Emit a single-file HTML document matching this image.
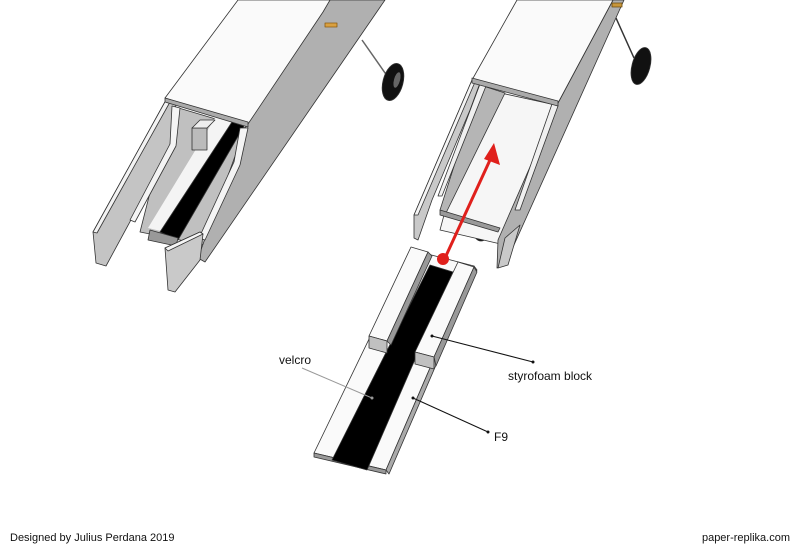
<!DOCTYPE html>
<html><head><meta charset="utf-8"><style>
html,body{margin:0;padding:0;background:#fff;}
svg{display:block;}
text{font-family:"Liberation Sans",Arial,sans-serif;}
</style></head><body>
<svg width="800" height="549" viewBox="0 0 800 549" xmlns="http://www.w3.org/2000/svg">
<rect width="800" height="549" fill="#fff"/>
<g stroke="#333" stroke-width="0.8" stroke-linejoin="round">
<!-- LEFT FUSELAGE -->
<line x1="362" y1="40" x2="390" y2="80" stroke="#666" stroke-width="1.5"/>
<ellipse cx="393" cy="82" rx="10" ry="19" fill="#111" transform="rotate(15 393 82)"/>
<ellipse cx="397" cy="80" rx="3" ry="8" fill="#666" stroke="none" transform="rotate(15 397 80)"/>
<!-- inner floor -->
<polygon points="172,106 246,128 205,245 140,232" fill="#c0c0c0"/>
<polygon points="215,118 232,122 165,232 148,228" fill="#f4f4f4" stroke="none"/>
<polygon points="232,122 244,126 178,240 160,232" fill="#000"/>
<polygon points="150,230 178,238 176,246 148,240" fill="#999"/>
<!-- inner block -->
<polygon points="192,128 207,128 207,150 192,150" fill="#bbb"/>
<polygon points="192,128 207,128 215,120 200,120" fill="#eee"/>
<!-- left outer side panel -->
<polygon points="166,100 176,104 170,145 132,218 106,266 96,263 93,232" fill="#c4c4c4"/>
<polygon points="166,100 170,102 97,233 93,232" fill="#f3f3f3"/>
<!-- inner left former strip -->
<polygon points="172,106 180,108 176,146 135,222 130,220 170,144" fill="#f4f4f4"/>
<!-- big right side panel -->
<polygon points="323,10 330,0 385,0 205,262 198,258 246,126" fill="#b0b0b0"/>
<!-- lid -->
<polygon points="238,0 330,0 323,12 248,124 165,98" fill="#fafafa"/>
<polygon points="165,98 248,122 248,127 165,102" fill="#aaa"/>
<!-- front former right -->
<polygon points="240,128 248,128 240,165 205,240 199,238 234,162" fill="#f4f4f4"/>
<polygon points="165,248 200,232 203,234 200,260 175,292 168,290" fill="#c9c9c9"/>
<polygon points="165,248 200,232 203,234 168,251" fill="#f5f5f5"/>
<rect x="325" y="23" width="12" height="4" fill="#d9a040" stroke="#8a5a10"/>

<!-- RIGHT FUSELAGE -->
<line x1="616" y1="18" x2="634" y2="58" stroke="#333" stroke-width="1.5"/>
<ellipse cx="641" cy="66" rx="9" ry="19" fill="#111" transform="rotate(15 641 66)"/>
<ellipse cx="481" cy="233" rx="7" ry="8" fill="#111"/>
<polygon points="478,88 560,106 505,245 440,230" fill="#f6f6f6"/>
<polygon points="480,85 505,93 445,215 440,210" fill="#b5b5b5"/>
<polygon points="472,80 480,83 470,110 432,200 418,240 414,238 414,215" fill="#c9c9c9"/>
<polygon points="472,80 475,82 418,215 414,215" fill="#f5f5f5"/>
<polygon points="480,84 486,86 442,196 438,196" fill="#f0f0f0"/>
<polygon points="613,0 624,0 505,265 497,268 498,240 558,103" fill="#b0b0b0"/>
<polygon points="552,104 558,106 520,210 515,210" fill="#f0f0f0"/>
<polygon points="505,238 520,225 508,265 498,268" fill="#c9c9c9"/>
<polygon points="517,0 613,0 558,103 472,80" fill="#fafafa"/>
<polygon points="472,78 558,101 558,106 472,83" fill="#aaa"/>
<polygon points="440,210 500,228 498,232 440,215" fill="#999"/>
<rect x="612" y="3" width="10" height="4" fill="#c8963a" stroke="#6a4a10"/>

<!-- TRAY -->
<polygon points="412,250 474,266 386,470 314,453" fill="#fafafa"/>
<polygon points="314,453 386,470 386,474 314,457" fill="#999"/>
<polygon points="474,266 477,270 389,474 386,470" fill="#aaa"/>
<polygon points="430,265 453,272 367,470 332,460" fill="#000"/>
<polygon points="411,247 428,252 387,341 369,336" fill="#fafafa"/>
<polygon points="369,336 387,341 387,353 369,348" fill="#c0c0c0"/>
<polygon points="428,252 432,256 391,345 387,341" fill="#999"/>
<polygon points="458,262 474,267 434,357 415,352" fill="#fafafa"/>
<polygon points="415,352 434,357 434,369 415,364" fill="#c0c0c0"/>
<polygon points="474,267 477,272 436,366 434,357" fill="#999"/>
</g>

<line x1="445" y1="258" x2="490" y2="160" stroke="#e0201c" stroke-width="3"/>
<polygon points="494,143 500,165 484,159" fill="#e0201c"/>
<circle cx="443" cy="259" r="6" fill="#e0201c"/>

<line x1="302" y1="368" x2="372" y2="398" stroke="#999" stroke-width="1"/>
<circle cx="372" cy="398" r="1.5" fill="#999"/>
<line x1="432" y1="336" x2="533" y2="362" stroke="#111" stroke-width="1"/>
<circle cx="432" cy="336" r="1.5" fill="#111"/><circle cx="533" cy="362" r="1.5" fill="#111"/>
<line x1="413" y1="398" x2="488" y2="432" stroke="#111" stroke-width="1"/>
<circle cx="413" cy="398" r="1.5" fill="#111"/><circle cx="488" cy="432" r="1.5" fill="#111"/>
<text x="279" y="364" font-size="12" fill="#111">velcro</text>
<text x="508" y="380" font-size="12" fill="#111">styrofoam block</text>
<text x="494" y="441" font-size="12" fill="#111">F9</text>
<text x="10" y="541" font-size="11" fill="#111">Designed by Julius Perdana 2019</text>
<text x="790" y="541" font-size="11" fill="#111" text-anchor="end">paper-replika.com</text>
</svg>
</body></html>
